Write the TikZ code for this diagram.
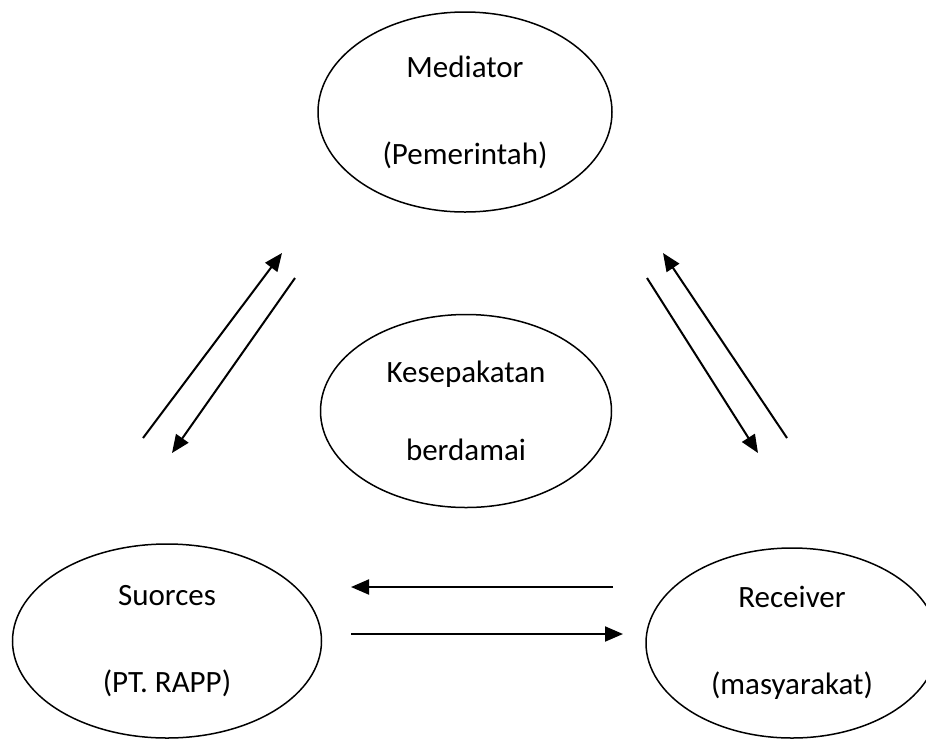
\documentclass[tikz,border=0pt]{standalone}
\usepackage{fontspec}
\setmainfont{Carlito}
\usepackage{tikz}
\usetikzlibrary{arrows.meta,shapes.geometric}

\begin{document}
\begin{tikzpicture}[
  x=0.5pt, y=-0.5pt,
  font=\fontsize{15.5}{43.5}\selectfont,
  ell/.style={draw, ellipse, line width=0.75pt, inner sep=0pt, align=center},
  arr/.style={-{Triangle[length=9pt,width=7.5pt]}, line width=1pt}
]
\useasboundingbox (0,0) rectangle (926,740);
\node[ell, minimum width=147pt, minimum height=100pt] (med) at (465,112) {Mediator\\(Pemerintah)};
\node[ell, minimum width=145.5pt, minimum height=96.5pt, font=\fontsize{15.5}{39}\selectfont] (kes) at (466,411) {Kesepakatan\\berdamai};
\node[ell, minimum width=154.5pt, minimum height=97pt] (src) at (167,641) {Suorces\\(PT. RAPP)};
\node[ell, minimum width=146pt, minimum height=95pt] (rcv) at (792,643) {Receiver\\(masyarakat)};
% free ends of the arrows
\coordinate (l1a) at (143,438); \coordinate (l1b) at (282,253);
\coordinate (l2a) at (295,278); \coordinate (l2b) at (172,453);
\coordinate (r1a) at (787,438); \coordinate (r1b) at (663,253);
\coordinate (r2a) at (647,278); \coordinate (r2b) at (758,453);
\coordinate (h1a) at (613,587); \coordinate (h1b) at (351,587);
\coordinate (h2a) at (351,634); \coordinate (h2b) at (623,634);
\draw[arr] (l1a) -- (l1b);
\draw[arr] (l2a) -- (l2b);
\draw[arr] (r1a) -- (r1b);
\draw[arr] (r2a) -- (r2b);
\draw[arr] (h1a) -- (h1b);
\draw[arr] (h2a) -- (h2b);
\end{tikzpicture}
\end{document}
